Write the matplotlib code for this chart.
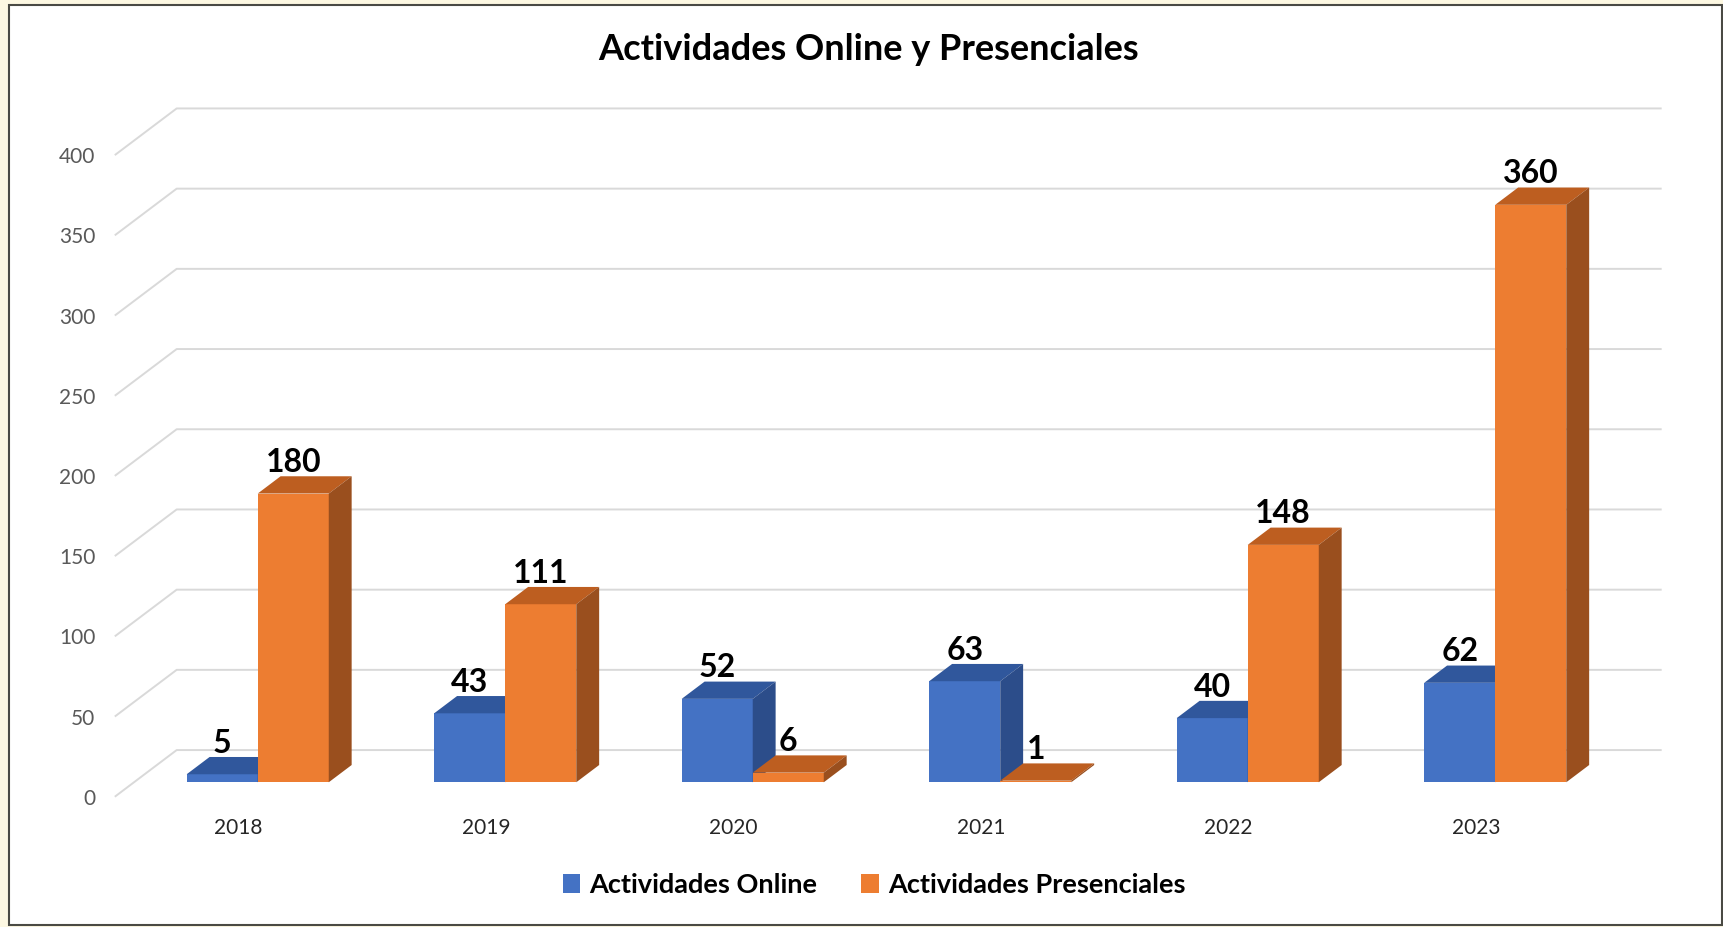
import matplotlib.pyplot as plt
from matplotlib.patches import Rectangle

# data
years = ["2018", "2019", "2020", "2021", "2022", "2023"]
online = [5, 43, 52, 63, 40, 62]
presencial = [180, 111, 6, 1, 148, 360]
y_ticks = [0, 50, 100, 150, 200, 250, 300, 350, 400]

series_names = ["Actividades Online", "Actividades Presenciales"]
front_colors = ["#4472C4", "#ED7D31"]
top_colors = ["#30579C", "#BD5E20"]
side_colors = ["#2C4D8A", "#9A4F1E"]

plt.rcParams["font.family"] = ["Lato", "DejaVu Sans"]

# fake 3d geometry: back wall offset (x units, value units), bar depth fractions
DX, DY = 0.25, 29.1
F0, F1 = 0.31, 0.68
W = 0.287

fig = plt.figure(figsize=(17.24, 9.27), dpi=100)
ax = fig.add_axes([0, 0, 1, 1])
ax.set_xlim(-0.9638, 6.0018)
ax.set_ylim(-81.2, 496.7)
for s in ax.spines.values():
    s.set_visible(False)

# back wall gridlines with the diagonal side edge
for v in y_ticks:
    ax.plot([-0.5, -0.5 + DX, 5.5 + DX], [v, v + DY, v + DY],
            color="#D9D9D9", lw=1.4, zorder=1, solid_capstyle="butt")

# bars: front face via bar(), top and side faces as polygons
series = [online, presencial]
for i in range(len(years)):
    for k in range(2):
        val = series[k][i]
        x0 = i + F0 * DX - W + k * W
        base = F0 * DY
        z = 3 + i * 4 + k * 2
        ax.bar(x0, val, width=W, bottom=base, align="edge",
               color=front_colors[k], zorder=z,
               label=series_names[k] if i == 0 else None)
        ddx = (F1 - F0) * DX
        ddy = (F1 - F0) * DY
        top = base + val
        ax.fill([x0, x0 + ddx, x0 + W + ddx, x0 + W],
                [top, top + ddy, top + ddy, top],
                color=top_colors[k], zorder=z, lw=0)
        ax.fill([x0 + W, x0 + W + ddx, x0 + W + ddx, x0 + W],
                [base, base + ddy, top + ddy, top],
                color=side_colors[k], zorder=z, lw=0)
        ax.text(x0 + W / 2, top + ddy - 0.5, str(val), ha="center", va="bottom",
                fontsize=23, fontweight="bold", color="black", zorder=40)

# axis labels
ax.spines["left"].set_position(("data", -0.5))
ax.spines["bottom"].set_position(("data", 0))
ax.set_yticks(y_ticks)
ax.set_xticks(range(len(years)))
ax.set_xticklabels(years)
ax.tick_params(axis="y", length=0, pad=14, labelsize=15, labelcolor="#595959")
ax.tick_params(axis="x", length=0, pad=15, labelsize=15, labelcolor="#262626")

fig.text(0.504, 1 - 50 / 927, "Actividades Online y Presenciales",
         ha="center", va="center", fontsize=26, fontweight="bold")

leg = ax.legend(loc="center", bbox_to_anchor=(0.507, 1 - 885 / 927),
                bbox_transform=fig.transFigure, ncol=2, frameon=False,
                handlelength=0.65, handleheight=0.65, handletextpad=0.35,
                columnspacing=1.6, prop={"size": 19.5, "weight": "bold"})

# outer frame like the screenshot
fig.patches.append(Rectangle((0, 0), 1, 1, transform=fig.transFigure,
                             facecolor="#FDF8E2", edgecolor="none", zorder=-3))
fig.patches.append(Rectangle((9 / 1724, 2 / 927), 1 - 11 / 1724, 1 - 7 / 927,
                             transform=fig.transFigure, facecolor="white",
                             edgecolor="#4A4A44", lw=1.5, zorder=-2))
ax.patch.set_visible(False)

fig.savefig("out.png", dpi=100)
